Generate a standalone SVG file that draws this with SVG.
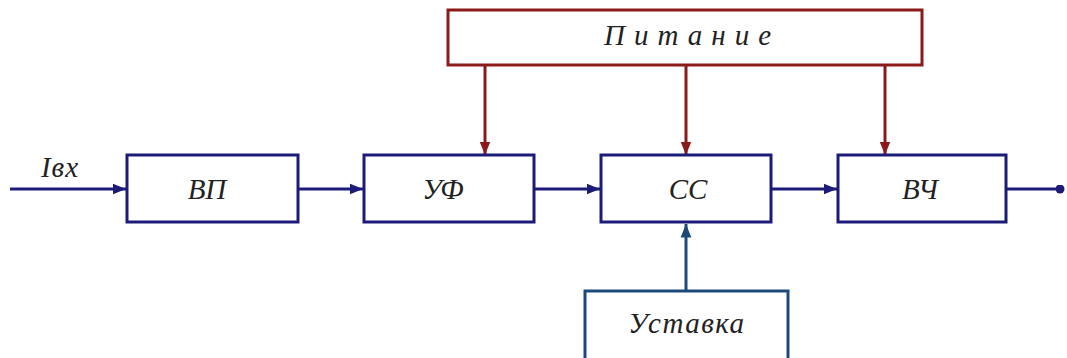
<svg xmlns="http://www.w3.org/2000/svg" width="1067" height="358" viewBox="0 0 1067 358">
<style>
.box{fill:#fff;stroke:#1c1c78;stroke-width:3}
.pbox{fill:#fff;stroke:#8b1a1a;stroke-width:3}
.ubox{fill:#fff;stroke:#1c4a78;stroke-width:3}
.lbl{font-family:"Liberation Serif","DejaVu Serif",serif;font-style:italic;font-size:29px;fill:#222;text-anchor:middle}
.blue{stroke:#1c1c78;stroke-width:3;fill:none}
.red{stroke:#8b1a1a;stroke-width:3;fill:none}
.ublue{stroke:#1c4a78;stroke-width:3;fill:none}
</style>
<defs>
<marker id="ab" viewBox="0 0 10 10" refX="10" refY="5" markerWidth="4.5" markerHeight="4.5" orient="auto" markerUnits="strokeWidth"><path d="M0,1 L10,5 L0,9 Z" fill="#1c1c78"/></marker>
<marker id="ar" viewBox="0 0 10 10" refX="10" refY="5" markerWidth="4.5" markerHeight="4.5" orient="auto" markerUnits="strokeWidth"><path d="M0,1 L10,5 L0,9 Z" fill="#8b1a1a"/></marker>
<marker id="au" viewBox="0 0 10 10" refX="10" refY="5" markerWidth="4.5" markerHeight="4.5" orient="auto" markerUnits="strokeWidth"><path d="M0,1 L10,5 L0,9 Z" fill="#1c4a78"/></marker>
<marker id="dot" viewBox="0 0 10 10" refX="5" refY="5" markerWidth="3" markerHeight="3" orient="auto" markerUnits="strokeWidth"><circle cx="5" cy="5" r="5" fill="#1c1c78"/></marker>
</defs>
<g id="connectors">
<line class="blue" x1="10" y1="189" x2="126" y2="189" marker-end="url(#ab)"/>
<line class="blue" x1="298" y1="189" x2="363" y2="189" marker-end="url(#ab)"/>
<line class="blue" x1="534" y1="189" x2="600" y2="189" marker-end="url(#ab)"/>
<line class="blue" x1="772" y1="189" x2="837" y2="189" marker-end="url(#ab)"/>
<line class="blue" x1="1007" y1="189" x2="1060" y2="189" marker-end="url(#dot)"/>
<line class="red" x1="485" y1="65" x2="485" y2="155" marker-end="url(#ar)"/>
<line class="red" x1="686" y1="65" x2="686" y2="155" marker-end="url(#ar)"/>
<line class="red" x1="885" y1="65" x2="885" y2="155" marker-end="url(#ar)"/>
<line class="ublue" x1="686" y1="291" x2="686" y2="224" marker-end="url(#au)"/>
</g>
<g id="input-label"><text class="lbl" x="60" y="177" font-size="24" letter-spacing="1">Iвх</text></g>
<g id="vp"><rect class="box" x="127" y="155" width="171" height="67"/><text class="lbl" x="207" y="199">ВП</text></g>
<g id="uf"><rect class="box" x="364" y="155" width="170" height="67"/><text class="lbl" x="443" y="199">УФ</text></g>
<g id="ss"><rect class="box" x="601" y="155" width="170" height="67"/><text class="lbl" x="688" y="199">СС</text></g>
<g id="vch"><rect class="box" x="838" y="155" width="168" height="67"/><text class="lbl" x="920" y="199">ВЧ</text></g>
<g id="pitanie"><rect class="pbox" x="448" y="10" width="474" height="55"/><text class="lbl" x="692" y="45" font-size="26" letter-spacing="9">Питание</text></g>
<g id="ustavka"><rect class="ubox" x="585" y="291" width="203" height="80"/><text class="lbl" x="687" y="333" letter-spacing="1.5">Уставка</text></g>
</svg>
